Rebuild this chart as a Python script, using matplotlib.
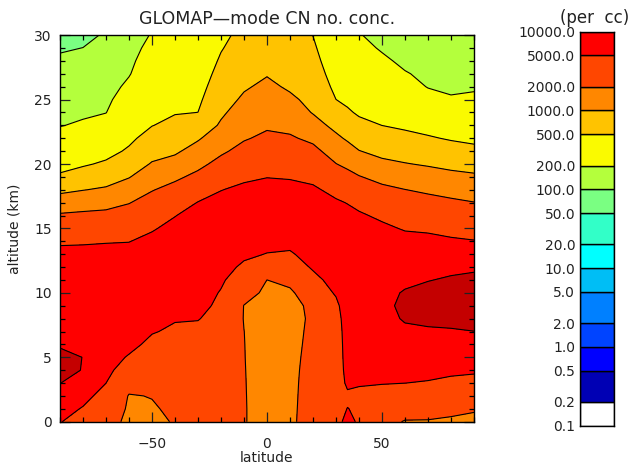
import numpy as np
import matplotlib
matplotlib.use("Agg")
import matplotlib.pyplot as plt
from matplotlib.ticker import MultipleLocator

# grid: latitude (deg) and altitude (km, 0..30)
lat = [-90, -80, -70, -60, -50, -40, -30, -20, -10, 0, 10, 20, 30, 35, 40, 50, 60, 70, 80, 90]
alt = list(range(31))

# log10 of CN number concentration (per cc), one altitude profile per latitude
cn_m90 = [3.71, 3.80, 3.90, 4.005, 4.12, 4.10, 3.96, 3.90, 3.87, 3.86, 3.86, 3.85, 3.83, 3.78, 3.658, 3.496,
          3.334, 3.140, 2.940, 2.739, 2.611, 2.500, 2.389, 2.291, 2.239, 2.188, 2.136, 2.084, 2.032, 1.979, 1.927]
cn_m80 = [3.60, 3.68, 3.78, 3.88, 3.985, 3.995, 3.94, 3.90, 3.87, 3.86, 3.86, 3.85, 3.83, 3.78, 3.668, 3.512,
          3.356, 3.179, 2.992, 2.823, 2.669, 2.557, 2.446, 2.334, 2.264, 2.211, 2.158, 2.106, 2.053, 2.002, 1.947]
cn_m70 = [3.45, 3.52, 3.60, 3.70, 3.79, 3.84, 3.86, 3.87, 3.87, 3.87, 3.86, 3.85, 3.83, 3.78, 3.684, 3.529,
          3.374, 3.209, 3.035, 2.883, 2.736, 2.617, 2.508, 2.399, 2.296, 2.251, 2.205, 2.160, 2.114, 2.068, 2.023]
cn_m60 = [3.22, 3.26, 3.285, 3.40, 3.52, 3.67, 3.79, 3.84, 3.86, 3.87, 3.87, 3.86, 3.84, 3.79, 3.692, 3.559,
          3.425, 3.290, 3.138, 2.987, 2.861, 2.734, 2.646, 2.573, 2.500, 2.426, 2.352, 2.285, 2.250, 2.215, 2.180]
cn_m50 = [3.24, 3.275, 3.31, 3.38, 3.46, 3.54, 3.62, 3.72, 3.80, 3.85, 3.87, 3.87, 3.86, 3.83, 3.77, 3.673,
          3.544, 3.416, 3.286, 3.153, 3.020, 2.908, 2.800, 2.692, 2.641, 2.588, 2.534, 2.480, 2.426, 2.372, 2.318]
cn_m40 = [3.32, 3.35, 3.39, 3.44, 3.49, 3.54, 3.59, 3.65, 3.72, 3.79, 3.84, 3.86, 3.87, 3.86, 3.83, 3.78,
          3.690, 3.543, 3.396, 3.247, 3.093, 2.961, 2.864, 2.767, 2.685, 2.637, 2.589, 2.541, 2.493, 2.445, 2.397]
cn_m30 = [3.40, 3.42, 3.45, 3.48, 3.52, 3.56, 3.60, 3.64, 3.71, 3.78, 3.83, 3.86, 3.87, 3.88, 3.88, 3.86,
          3.81, 3.71, 3.545, 3.373, 3.228, 3.102, 2.973, 2.836, 2.700, 2.650, 2.600, 2.550, 2.500, 2.450, 2.400]
cn_m20 = [3.42, 3.44, 3.46, 3.48, 3.50, 3.52, 3.55, 3.58, 3.61, 3.64, 3.68, 3.74, 3.80, 3.84, 3.86, 3.87,
          3.86, 3.80, 3.69, 3.537, 3.389, 3.256, 3.144, 3.032, 2.960, 2.904, 2.848, 2.792, 2.736, 2.680, 2.624]
cn_m10 = [3.33, 3.33, 3.325, 3.32, 3.315, 3.31, 3.307, 3.303, 3.29, 3.295, 3.40, 3.53, 3.65, 3.75, 3.81, 3.85,
          3.86, 3.84, 3.77, 3.640, 3.515, 3.389, 3.277, 3.197, 3.116, 3.036, 2.975, 2.929, 2.883, 2.837, 2.791]
cn_0 = [3.10, 3.10, 3.11, 3.12, 3.13, 3.14, 3.15, 3.16, 3.18, 3.21, 3.25, 3.30, 3.50, 3.69, 3.78, 3.83,
        3.86, 3.86, 3.82, 3.69, 3.577, 3.467, 3.356, 3.265, 3.192, 3.120, 3.047, 2.986, 2.946, 2.906, 2.866]
cn_10 = [3.20, 3.19, 3.18, 3.17, 3.16, 3.15, 3.15, 3.15, 3.16, 3.19, 3.25, 3.38, 3.55, 3.67, 3.77, 3.83,
         3.86, 3.86, 3.81, 3.67, 3.554, 3.443, 3.332, 3.232, 3.137, 3.041, 2.970, 2.920, 2.870, 2.820, 2.770]
cn_20 = [3.55, 3.54, 3.53, 3.52, 3.50, 3.47, 3.43, 3.40, 3.37, 3.38, 3.50, 3.62, 3.73, 3.80, 3.84, 3.86,
         3.86, 3.83, 3.75, 3.62, 3.494, 3.373, 3.244, 3.100, 2.986, 2.938, 2.890, 2.842, 2.795, 2.747, 2.695]
cn_30 = [3.64, 3.60, 3.56, 3.53, 3.51, 3.50, 3.50, 3.52, 3.56, 3.63, 3.73, 3.80, 3.84, 3.86, 3.87, 3.86,
         3.82, 3.74, 3.609, 3.458, 3.307, 3.179, 3.051, 2.931, 2.815, 2.700, 2.638, 2.577, 2.515, 2.454, 2.393]
cn_35 = [3.75, 3.705, 3.65, 3.75, 3.80, 3.83, 3.85, 3.86, 3.87, 3.87, 3.88, 3.88, 3.88, 3.88, 3.87, 3.85,
         3.79, 3.688, 3.538, 3.387, 3.241, 3.101, 2.967, 2.848, 2.729, 2.655, 2.596, 2.537, 2.478, 2.419, 2.360]
cn_40 = [3.675, 3.66, 3.67, 3.71, 3.78, 3.81, 3.83, 3.85, 3.87, 3.88, 3.88, 3.88, 3.88, 3.87, 3.85, 3.80,
         3.74, 3.619, 3.467, 3.316, 3.162, 3.008, 2.883, 2.760, 2.670, 2.611, 2.553, 2.494, 2.436, 2.377, 2.319]
cn_50 = [3.42, 3.50, 3.60, 3.71, 3.80, 3.85, 3.88, 3.91, 3.93, 3.94, 3.93, 3.90, 3.88, 3.86, 3.83, 3.76,
         3.643, 3.504, 3.365, 3.216, 3.058, 2.927, 2.812, 2.698, 2.627, 2.557, 2.487, 2.417, 2.347, 2.276, 2.206]
cn_60 = [3.28, 3.45, 3.55, 3.70, 3.80, 3.86, 3.91, 3.96, 4.02, 4.05, 4.02, 3.95, 3.90, 3.86, 3.80, 3.674,
         3.551, 3.428, 3.305, 3.159, 3.012, 2.887, 2.765, 2.660, 2.575, 2.489, 2.404, 2.318, 2.250, 2.200, 2.150]
cn_70 = [3.28, 3.42, 3.55, 3.68, 3.78, 3.86, 3.92, 3.97, 4.05, 4.10, 4.08, 3.99, 3.92, 3.87, 3.80, 3.642,
         3.515, 3.389, 3.258, 3.115, 2.975, 2.850, 2.724, 2.612, 2.503, 2.394, 2.290, 2.250, 2.220, 2.190, 2.160]
cn_80 = [3.25, 3.38, 3.50, 3.63, 3.76, 3.86, 3.92, 3.98, 4.06, 4.11, 4.10, 4.03, 3.94, 3.88, 3.74, 3.608,
         3.478, 3.348, 3.212, 3.065, 2.938, 2.806, 2.676, 2.559, 2.442, 2.324, 2.260, 2.230, 2.210, 2.190, 2.170]
cn_90 = [3.20, 3.34, 3.46, 3.58, 3.75, 3.85, 3.92, 3.998, 4.07, 4.11, 4.11, 4.06, 3.96, 3.87, 3.712, 3.578,
         3.443, 3.308, 3.174, 3.040, 2.902, 2.762, 2.645, 2.547, 2.448, 2.350, 2.270, 2.240, 2.220, 2.200, 2.180]

profiles = [cn_m90, cn_m80, cn_m70, cn_m60, cn_m50, cn_m40, cn_m30, cn_m20, cn_m10, cn_0,
            cn_10, cn_20, cn_30, cn_35, cn_40, cn_50, cn_60, cn_70, cn_80, cn_90]
log_cn = np.array(profiles).T

# contour levels (per cc) and fill colours, lowest band first
bounds = [0.1, 0.2, 0.5, 1.0, 2.0, 5.0, 10.0, 20.0, 50.0, 100.0, 200.0, 500.0,
          1000.0, 2000.0, 5000.0, 10000.0]
band_colors = ["#ffffff", "#0000b4", "#0000ff", "#0044ff", "#0080ff", "#00bef5",
               "#00ffff", "#32ffc8", "#7aff82", "#b4ff3c", "#fafa00", "#ffc300",
               "#ff8700", "#ff4600", "#ff0000"]
over_color = "#c40000"

log_bounds = np.log10(bounds)
text_col = "#222222"

fig = plt.figure(figsize=(6.34, 4.68), dpi=100)
plt.rcParams['font.family'] = ['DejaVu Sans']
ax = fig.add_axes([0.0946, 0.0989, 0.653, 0.826])

ax.contourf(lat, alt, log_cn, levels=list(log_bounds) + [9.0],
            colors=band_colors + [over_color])
ax.contour(lat, alt, log_cn, levels=log_bounds, colors="k", linewidths=0.8)

ax.set_xlim(-90, 90)
ax.set_ylim(0, 30)
ax.xaxis.set_major_locator(MultipleLocator(50))
ax.xaxis.set_minor_locator(MultipleLocator(10))
ax.yaxis.set_major_locator(MultipleLocator(5))
ax.yaxis.set_minor_locator(MultipleLocator(1))
ax.tick_params(which="both", direction="in", top=True, right=True, width=0.9)
ax.tick_params(which="major", length=7, labelsize=10, colors=text_col)
ax.tick_params(which="minor", length=3.5)
ax.tick_params(axis="x", which="major", pad=11)
ax.tick_params(axis="y", which="major", pad=6)
for s in ax.spines.values():
    s.set_linewidth(1.0)

ax.set_xlabel("latitude", fontsize=10, labelpad=0, color=text_col)
ax.set_ylabel("altitude (km)", fontsize=10, labelpad=9, color=text_col)
ax.set_title("GLOMAP\u2014mode CN no. conc.", fontsize=12.5, pad=8, color=text_col)

# colour key with log-proportional boxes
cax = fig.add_axes([580 / 634, 1 - 425.7 / 468, 34 / 634, 394 / 468])
for lo, hi, c in zip(log_bounds[:-1], log_bounds[1:], band_colors):
    cax.bar(0.5, hi - lo, bottom=lo, width=1.0, color=c, edgecolor="k", linewidth=1.0)
cax.set_xlim(0, 1)
cax.set_ylim(log_bounds[0], log_bounds[-1])
cax.set_xticks([])
cax.set_yticks(log_bounds)
cax.set_yticklabels(["%.1f" % b for b in bounds])
cax.tick_params(axis="y", length=0, labelsize=10, pad=3.5, colors=text_col)
for s in cax.spines.values():
    s.set_linewidth(1.0)
fig.text(560 / 634, 1 - 18 / 468, "(per  cc)", ha="left", va="center",
         fontsize=12, color=text_col)

fig.savefig("out.png", dpi=100)
